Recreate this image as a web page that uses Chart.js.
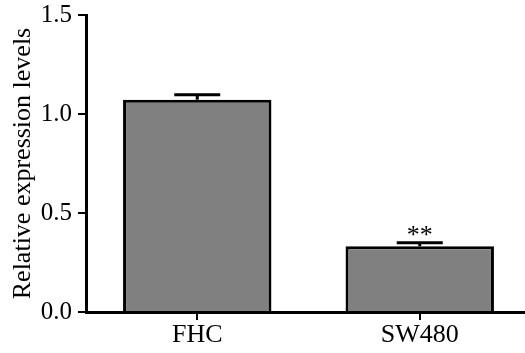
<!DOCTYPE html>
<html>
<head>
<meta charset="utf-8">
<script src="https://cdn.jsdelivr.net/npm/chart.js@4/dist/chart.umd.min.js"></script>
<style>
  html, body { margin: 0; padding: 0; background: #fff; overflow: hidden; }
  #wrap { width: 531px; height: 353px; }
</style>
</head>
<body>
<div id="wrap"><canvas id="chart"></canvas></div>
<script>
const categories = ['FHC', 'SW480'];
const values = [1.072, 0.332];
const errors = [0.025, 0.018];
const marks = ['', '**'];
const yTicks = [0, 0.5, 1.0, 1.5];

const serif = "'Liberation Serif', 'Times New Roman', serif";

// Upper error bars plus the significance stars
const errorBars = {
  id: 'errorBars',
  afterDatasetsDraw(chart) {
    const { ctx, scales: { y } } = chart;
    const meta = chart.getDatasetMeta(0);
    ctx.save();
    ctx.strokeStyle = '#000';
    ctx.lineWidth = 3;
    meta.data.forEach((bar, i) => {
      const cx = bar.x;
      const top = y.getPixelForValue(values[i] + errors[i]);
      const base = y.getPixelForValue(values[i]);
      ctx.beginPath();
      ctx.moveTo(cx, base);
      ctx.lineTo(cx, top);
      ctx.moveTo(cx - 23, top);
      ctx.lineTo(cx + 23, top);
      ctx.stroke();
      if (marks[i]) {
        ctx.fillStyle = '#000';
        ctx.font = '26px ' + serif;
        ctx.textAlign = 'center';
        ctx.textBaseline = 'bottom';
        ctx.fillText(marks[i], cx, top + 6);
      }
    });
    ctx.restore();
  }
};

new Chart(document.getElementById('chart'), {
  type: 'bar',
  data: {
    labels: categories,
    datasets: [{
      data: values,
      backgroundColor: '#808080',
      borderColor: '#000',
      borderWidth: 3,
      borderSkipped: 'bottom',
      categoryPercentage: 1,
      barPercentage: 0.667
    }]
  },
  options: {
    responsive: true,
    maintainAspectRatio: false,
    animation: false,
    layout: { padding: { top: 15, right: 0, left: 0, bottom: 0 } },
    plugins: {
      legend: { display: false },
      tooltip: { enabled: false }
    },
    scales: {
      x: {
        afterFit: (scale) => { scale.height = 41; },
        border: { color: '#000', width: 3 },
        grid: { drawOnChartArea: false, offset: false, color: '#000', lineWidth: 2, tickLength: 8 },
        ticks: { color: '#000', padding: 0, font: { family: serif, size: 26 } }
      },
      y: {
        min: 0,
        max: 1.5,
        afterFit: (scale) => {
          scale.width = 86;
          scale.paddingTop = 0;
          scale.paddingBottom = 0;
        },
        afterBuildTicks: (scale) => { scale.ticks = yTicks.map((v) => ({ value: v })); },
        border: { color: '#000', width: 3 },
        grid: { drawOnChartArea: false, color: '#000', lineWidth: 2, tickLength: 8 },
        ticks: {
          color: '#000',
          padding: 6,
          font: { family: serif, size: 25 },
          callback: (v) => Number(v).toFixed(1)
        },
        title: {
          display: true,
          text: 'Relative expression levels',
          color: '#000',
          padding: { top: 8, bottom: 0 },
          font: { family: serif, size: 26 }
        }
      }
    }
  },
  plugins: [errorBars]
});
</script>
</body>
</html>
